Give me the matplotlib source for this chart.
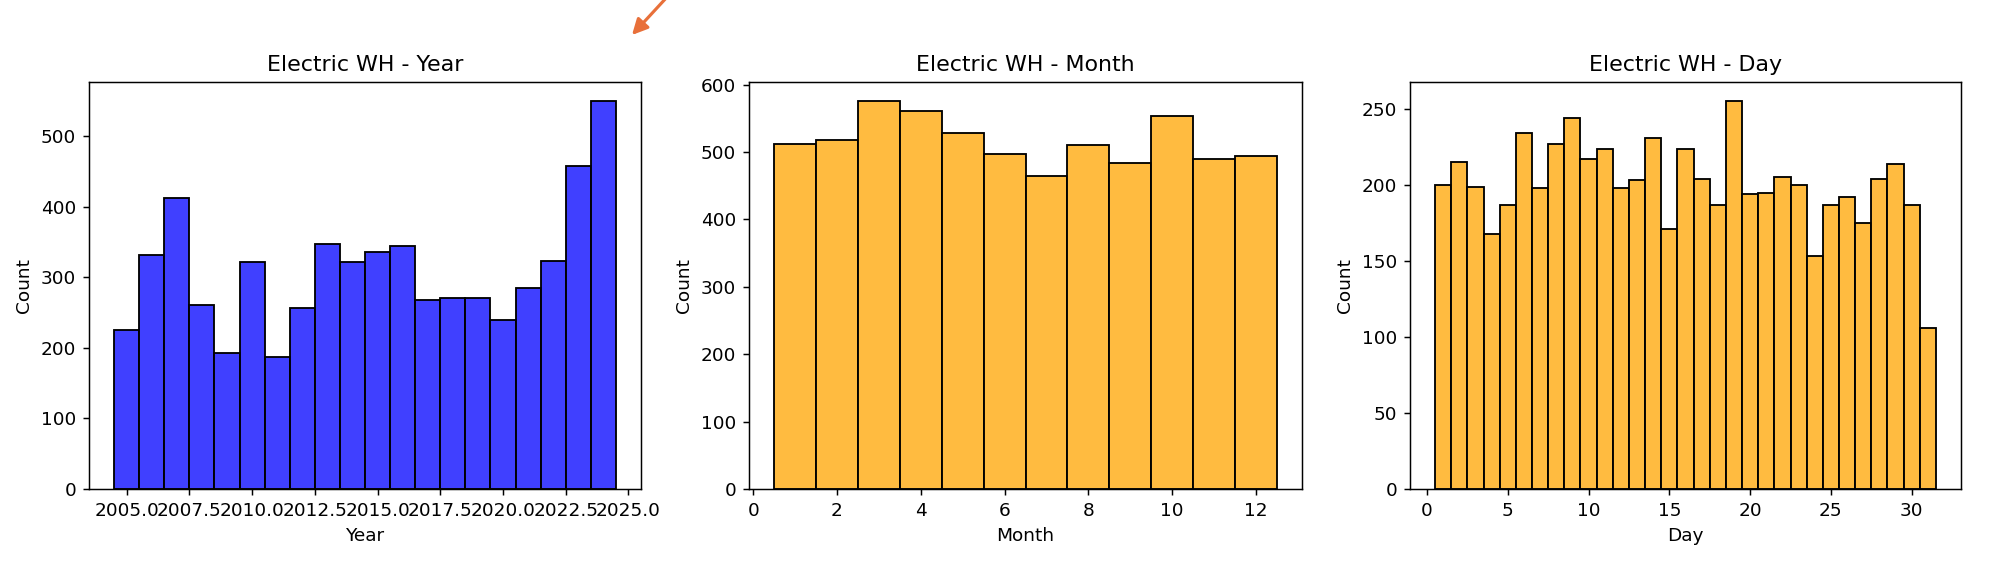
import matplotlib
matplotlib.use("Agg")
import matplotlib.pyplot as plt
import numpy as np

# Data
years = list(range(2005, 2025))
year_counts = [225, 331, 412, 261, 193, 321, 187, 257, 347, 321,
               336, 344, 268, 270, 270, 240, 284, 323, 457, 549]

months = list(range(1, 13))
month_counts = [512, 518, 575, 561, 528, 497, 465, 510, 484, 553, 490, 494]

days = list(range(1, 32))
day_counts = [200, 215, 199, 168, 187, 234, 198, 227, 244, 217,
              224, 198, 203, 231, 171, 224, 204, 187, 255, 194,
              195, 205, 200, 153, 187, 192, 175, 204, 214, 187, 106]

titles = ["Electric WH - Year", "Electric WH - Month", "Electric WH - Day"]
xlabels = ["Year", "Month", "Day"]

W, H = 2002, 588
DPI = 133
fig = plt.figure(figsize=(W / DPI, H / DPI), dpi=DPI)

axes_px = [(89, 641), (749, 1302), (1410, 1961)]
top_px, bot_px = 82, 489

blue_fill = (0.0, 0.0, 1.0, 0.75)
orange_fill = (1.0, 165 / 255, 0.0, 0.75)

series = [(years, year_counts, blue_fill),
          (months, month_counts, orange_fill),
          (days, day_counts, orange_fill)]

for (l, r), (xs, cs, col), title, xl in zip(axes_px, series, titles, xlabels):
    ax = fig.add_axes([l / W, 1 - bot_px / H, (r - l) / W, (bot_px - top_px) / H])
    ax.bar(xs, cs, width=1.0, align="center", color=col,
           edgecolor="black", linewidth=1.0)
    ax.set_title(title, fontsize=12)
    ax.set_xlabel(xl, fontsize=10)
    ax.set_ylabel("Count", fontsize=10)
    ax.tick_params(labelsize=10)

# Year axis uses one-decimal tick labels like the original
fig.axes[0].xaxis.set_major_formatter(matplotlib.ticker.FormatStrFormatter("%.1f"))

# Orange arrow annotation at the top
fig.patches.append(matplotlib.patches.FancyArrowPatch(
    (668, H + 4), (632, H - 35), transform=None,
    arrowstyle="-|>,head_length=7,head_width=3.5", color="#E8703A",
    linewidth=1.7, mutation_scale=1.0, shrinkA=0, shrinkB=0))

fig.savefig("out.png", dpi=DPI)
